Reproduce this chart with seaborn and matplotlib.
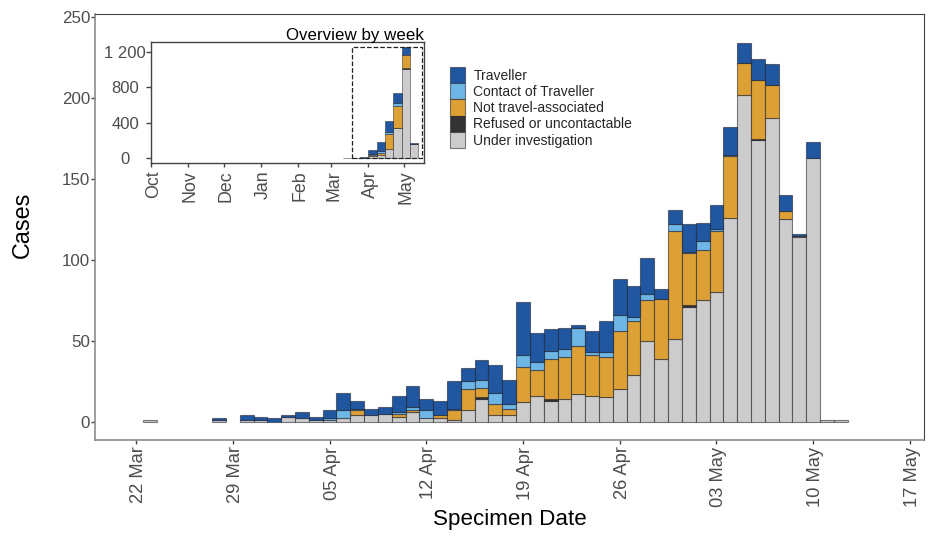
import matplotlib
matplotlib.use("Agg")
import matplotlib.dates as mdates
import matplotlib.pyplot as plt
import numpy as np
import pandas as pd
import seaborn as sns
from matplotlib.patches import Rectangle
from matplotlib.transforms import ScaledTranslation

# ─── DATA ───────────────────────────────────────────────────────────────────
categories = ["Traveller", "Contact of Traveller", "Not travel-associated",
              "Refused or uncontactable", "Under investigation"]
palette = ["#2057A0", "#6DB6E6", "#DCA035", "#333333", "#CCCCCC"]

# daily counts, 23 Mar to 12 May
first_day = "2021-03-23"
last_day = "2021-05-12"
traveller = [0, 0, 0, 0, 0, 1, 0, 3, 2, 2, 1, 4, 2, 5, 11, 5, 4, 4, 10, 13, 7,
             9, 17, 8, 12, 17, 15, 33, 18, 13, 13, 2, 13, 19, 22, 19, 22, 6, 9,
             17, 11, 15, 17, 12, 13, 13, 10, 1, 10, 0, 0]
contact = [0, 0, 0, 0, 0, 0, 0, 0, 0, 0, 0, 0, 0, 1, 5, 1, 0, 0, 1, 2, 5,
           0, 1, 5, 5, 7, 3, 7, 5, 5, 5, 11, 2, 3, 10, 3, 4, 0, 4,
           1, 6, 1, 1, 0, 0, 0, 0, 0, 0, 0, 0]
not_travel = [0, 0, 0, 0, 0, 0, 0, 0, 0, 0, 0, 0, 0, 0, 0, 3, 0, 0, 2, 1, 0,
              2, 6, 13, 6, 7, 4, 22, 16, 25, 26, 30, 25, 25, 36, 33, 25, 37, 67,
              32, 31, 38, 38, 20, 36, 20, 5, 1, 0, 0, 0]
refused = [0, 0, 0, 0, 0, 0, 0, 0, 0, 0, 0, 0, 0, 0, 0, 0, 0, 0, 0, 0, 0,
           0, 0, 0, 1, 0, 0, 0, 0, 1, 0, 0, 0, 0, 0, 0, 0, 0, 0,
           1, 0, 0, 0, 0, 1, 0, 0, 0, 0, 0, 0]
under_inv = [1, 0, 0, 0, 0, 1, 0, 1, 1, 0, 3, 2, 1, 1, 2, 4, 4, 5, 3, 6, 2,
             2, 1, 7, 14, 4, 4, 12, 16, 13, 14, 17, 16, 15, 20, 29, 50, 39, 51,
             71, 75, 80, 126, 202, 174, 188, 125, 114, 163, 1, 1]
date_ticks = ["2021-03-22", "2021-03-29", "2021-04-05", "2021-04-12",
              "2021-04-19", "2021-04-26", "2021-05-03", "2021-05-10", "2021-05-17"]
y_ticks = [0, 50, 100, 150, 200, 250]

# weekly overview, by week start
week_starts = ["2021-03-11", "2021-03-18", "2021-03-25", "2021-04-01", "2021-04-08",
               "2021-04-15", "2021-04-22", "2021-04-29", "2021-05-06"]
wk_traveller = [0, 0, 12, 45, 100, 120, 113, 88, 7]
wk_contact = [0, 0, 0, 10, 25, 30, 25, 0, 0]
wk_not_travel = [0, 0, 0, 5, 20, 170, 250, 155, 0]
wk_refused = [0, 0, 0, 0, 0, 0, 5, 3, 3]
wk_under_inv = [1, 2, 8, 30, 37, 100, 338, 1010, 160]
month_ticks = ["2020-10-01", "2020-11-01", "2020-12-01", "2021-01-01",
               "2021-02-01", "2021-03-01", "2021-04-01", "2021-05-01"]
wk_y_ticks = [0, 400, 800, 1200]
wk_y_labels = ["0", "400", "800", "1 200"]

# ─── TABLES ─────────────────────────────────────────────────────────────────
days = mdates.date2num(pd.date_range(first_day, last_day))
daily = pd.DataFrame({"day": np.tile(days, 5),
                      "status": np.repeat(categories, len(days)),
                      "cases": traveller + contact + not_travel + refused + under_inv})

weeks = mdates.date2num(pd.to_datetime(week_starts))
weekly = pd.DataFrame({"week": np.tile(weeks, 5),
                       "status": np.repeat(categories, len(weeks)),
                       "cases": wk_traveller + wk_contact + wk_not_travel + wk_refused + wk_under_inv})

# ─── PLOT ───────────────────────────────────────────────────────────────────
sns.set_theme(style="white")
plt.rcParams["font.family"] = ["Liberation Sans", "DejaVu Sans"]
TICK = "#4D4D4D"
FRAME = "#444444"
W, H = 943, 544
edge = (0.1, 0.1, 0.15, 0.55)

fig = plt.figure(figsize=(W / 100, H / 100), dpi=100, facecolor="white")
ax = fig.add_axes([95 / W, (H - 439.5) / H, 829 / W, 425.5 / H])

sns.histplot(data=daily, x="day", weights="cases", hue="status", hue_order=categories,
             palette=palette, multiple="stack", discrete=True, alpha=1,
             edgecolor=edge, linewidth=0.8, ax=ax)
for p in list(ax.patches):
    if p.get_height() == 0:
        p.remove()

ax.set_xlim(days[0] - 3.97, days[0] + 56.02)
ax.set_ylim(-11, 252)
ax.set_xticks(mdates.date2num(pd.to_datetime(date_ticks)))
ax.xaxis.set_major_formatter(mdates.DateFormatter("%d %b"))
ax.set_yticks(y_ticks)
ax.tick_params(axis="x", labelrotation=90, labelsize=13.2, labelcolor=TICK, length=3,
               width=1, color=FRAME, bottom=True, pad=2)
ax.tick_params(axis="y", labelsize=12.2, labelcolor=TICK, length=3, width=1,
               color=FRAME, left=True, pad=0.5)
ax.set_xlabel("Specimen Date", fontsize=16.1, color="black", labelpad=2)
ax.set_ylabel("Cases", fontsize=16.8, color="black")
ax.yaxis.set_label_coords(-0.0736, 0.504)
for name, s in ax.spines.items():
    if name in ("left", "bottom"):
        s.set_color("#8C8C8C")
        s.set_linewidth(1.2)
    else:
        s.set_color(FRAME)
        s.set_linewidth(0.8)

sns.move_legend(ax, loc="upper left", bbox_to_anchor=(0.428, 0.8754), title=None,
                frameon=False, fontsize=10, handlelength=1.08, handleheight=1.417,
                labelspacing=0, handletextpad=0.62, borderpad=0, borderaxespad=0)

# ── inset: overview by week ─────────────────────────────────────────────────
axi = fig.add_axes([150.7 / W, (H - 163.3) / H, 273 / W, 121.6 / H])
sns.histplot(data=weekly, x="week", weights="cases", hue="status", hue_order=categories,
             palette=palette, multiple="stack", binwidth=7,
             binrange=(weeks[0], weeks[-1] + 7),
             alpha=1, edgecolor=edge, linewidth=0.6, legend=False, ax=axi)
for p in list(axi.patches):
    if p.get_height() == 0:
        p.remove()

oct1 = mdates.date2num(pd.Timestamp(month_ticks[0]))
axi.set_xlim(oct1, oct1 + 228.5)
axi.set_ylim(-56, 1312)
axi.set_xticks(mdates.date2num(pd.to_datetime(month_ticks)))
axi.xaxis.set_major_formatter(mdates.DateFormatter("%b"))
axi.set_yticks(wk_y_ticks)
axi.set_yticklabels(wk_y_labels, ha="center")
axi.tick_params(axis="x", labelrotation=90, labelsize=12.8, labelcolor=TICK, length=3,
                width=1, color=FRAME, bottom=True, pad=2)
axi.tick_params(axis="y", labelsize=12, labelcolor=TICK, length=3.4, width=1,
                color=FRAME, left=True, pad=15)
axi.set_xlabel("")
axi.set_ylabel("")
axi.set_title("Overview by week", loc="right", fontsize=12.2, color="black", pad=1.5)
for s in axi.spines.values():
    s.set_color(FRAME)
    s.set_linewidth(1)
axi.add_patch(Rectangle((oct1 + 168.8, 0), 58.5, 1256, fill=False, edgecolor="#222222",
                        linestyle="--", linewidth=0.9, zorder=5))

# rotated labels sit a little left of their ticks because of the descent
nudge = ScaledTranslation(2.5 / 100, 0, fig.dpi_scale_trans)
for lab in ax.get_xticklabels() + axi.get_xticklabels():
    lab.set_transform(lab.get_transform() + nudge)

fig.savefig("out.png", dpi=100, facecolor="white")
